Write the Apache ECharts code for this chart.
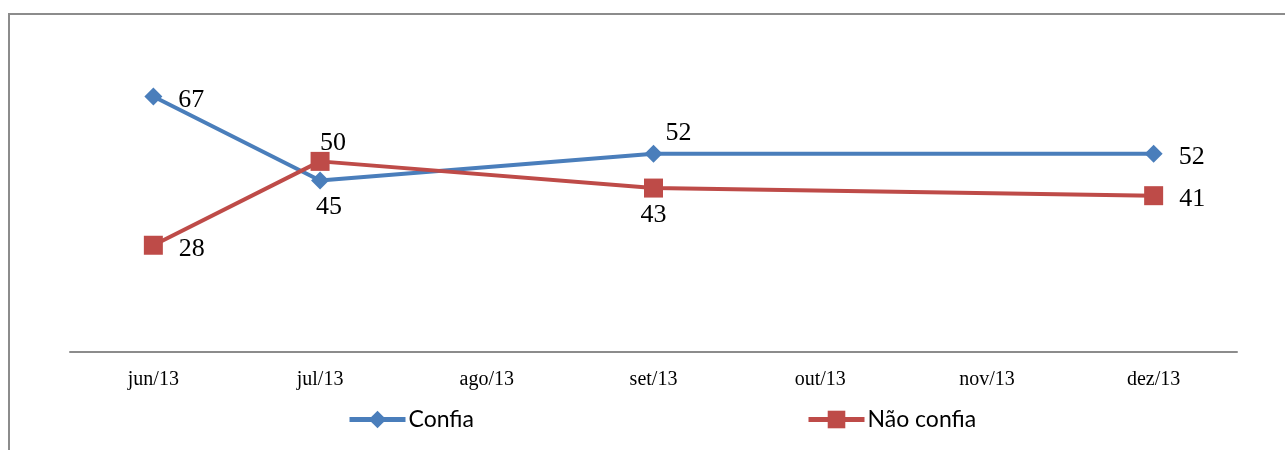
<!DOCTYPE html>
<html>
<head>
<meta charset="utf-8">
<script src="https://cdn.jsdelivr.net/npm/echarts@6/dist/echarts.min.js"></script>
<style>
  html, body { margin: 0; padding: 0; background: #fff; }
  #chart { width: 1285px; height: 450px; }
</style>
</head>
<body>
<div id="chart"></div>
<script>
// Monthly survey: share who trust vs. do not trust (%)
const categories = ['jun/13', 'jul/13', 'ago/13', 'set/13', 'out/13', 'nov/13', 'dez/13'];
const confia = [67, 45, null, 52, null, null, 52];
const naoConfia = [28, 50, null, 43, null, null, 41];

// Where each value label sits relative to its marker
const confiaLabelPos = ['right', 'bottom', null, 'top', null, null, 'right'];
const naoConfiaLabelPos = ['right', 'top', null, 'bottom', null, null, 'right'];
const confiaLabelShift = [[8, 4], [9, -3], null, [25, 9], null, null, [8, 3]];
const naoConfiaLabelShift = [[8, 4], [13, 12], null, [0, -3], null, null, [8, 3]];

const BLUE = '#4A7EBB';
const RED = '#BE4B48';

function withLabels(values, positions, shifts) {
  return values.map((v, i) => {
    if (v === null) return null;
    return {
      value: v,
      label: { position: positions[i], offset: shifts[i] || [0, 0] }
    };
  });
}

const labelStyle = {
  show: true,
  fontFamily: '"Liberation Serif", "Times New Roman", serif',
  fontSize: 26,
  color: '#000',
  distance: 8
};

const legendText = {
  fontFamily: 'Lato, "Open Sans", sans-serif',
  fontSize: 23,
  color: '#000',
  padding: [0, 0, 0, -2]
};

const chart = echarts.init(document.getElementById('chart'), null, { renderer: 'canvas' });

chart.setOption({
  animation: false,
  backgroundColor: '#fff',
  graphic: [{
    type: 'rect',
    shape: { x: 9, y: 14, width: 1300, height: 460 },
    style: { fill: 'none', stroke: '#8c8c8c', lineWidth: 2 },
    silent: true,
    z: -1
  }],
  grid: { left: 70, right: 48, top: 47, bottom: 98 },
  legend: [{
    data: ['Confia'],
    left: 342,
    top: 403,
    itemWidth: 56,
    itemHeight: 22,
    itemGap: 4,
    lineStyle: { width: 5 },
    textStyle: legendText
  }, {
    data: ['Não confia'],
    left: 801,
    top: 403,
    itemWidth: 56,
    itemHeight: 22,
    itemGap: 4,
    lineStyle: { width: 5 },
    textStyle: legendText
  }],
  xAxis: {
    type: 'category',
    data: categories,
    boundaryGap: true,
    axisLine: { lineStyle: { color: '#8c8c8c', width: 2 } },
    axisTick: { show: false },
    axisLabel: {
      fontFamily: '"Liberation Serif", "Times New Roman", serif',
      fontSize: 20,
      color: '#000',
      margin: 18
    }
  },
  yAxis: {
    type: 'value',
    min: 0,
    max: 80,
    interval: 10,
    show: false,
    splitLine: { show: false }
  },
  series: [{
    name: 'Confia',
    type: 'line',
    connectNulls: true,
    data: withLabels(confia, confiaLabelPos, confiaLabelShift),
    symbol: 'diamond',
    symbolSize: [18, 18],
    lineStyle: { color: BLUE, width: 4 },
    itemStyle: { color: BLUE },
    label: labelStyle,
    z: 3
  }, {
    name: 'Não confia',
    type: 'line',
    connectNulls: true,
    data: withLabels(naoConfia, naoConfiaLabelPos, naoConfiaLabelShift),
    symbol: 'rect',
    symbolSize: [19, 19],
    lineStyle: { color: RED, width: 4 },
    itemStyle: { color: RED },
    label: labelStyle,
    z: 4
  }]
});
</script>
</body>
</html>
